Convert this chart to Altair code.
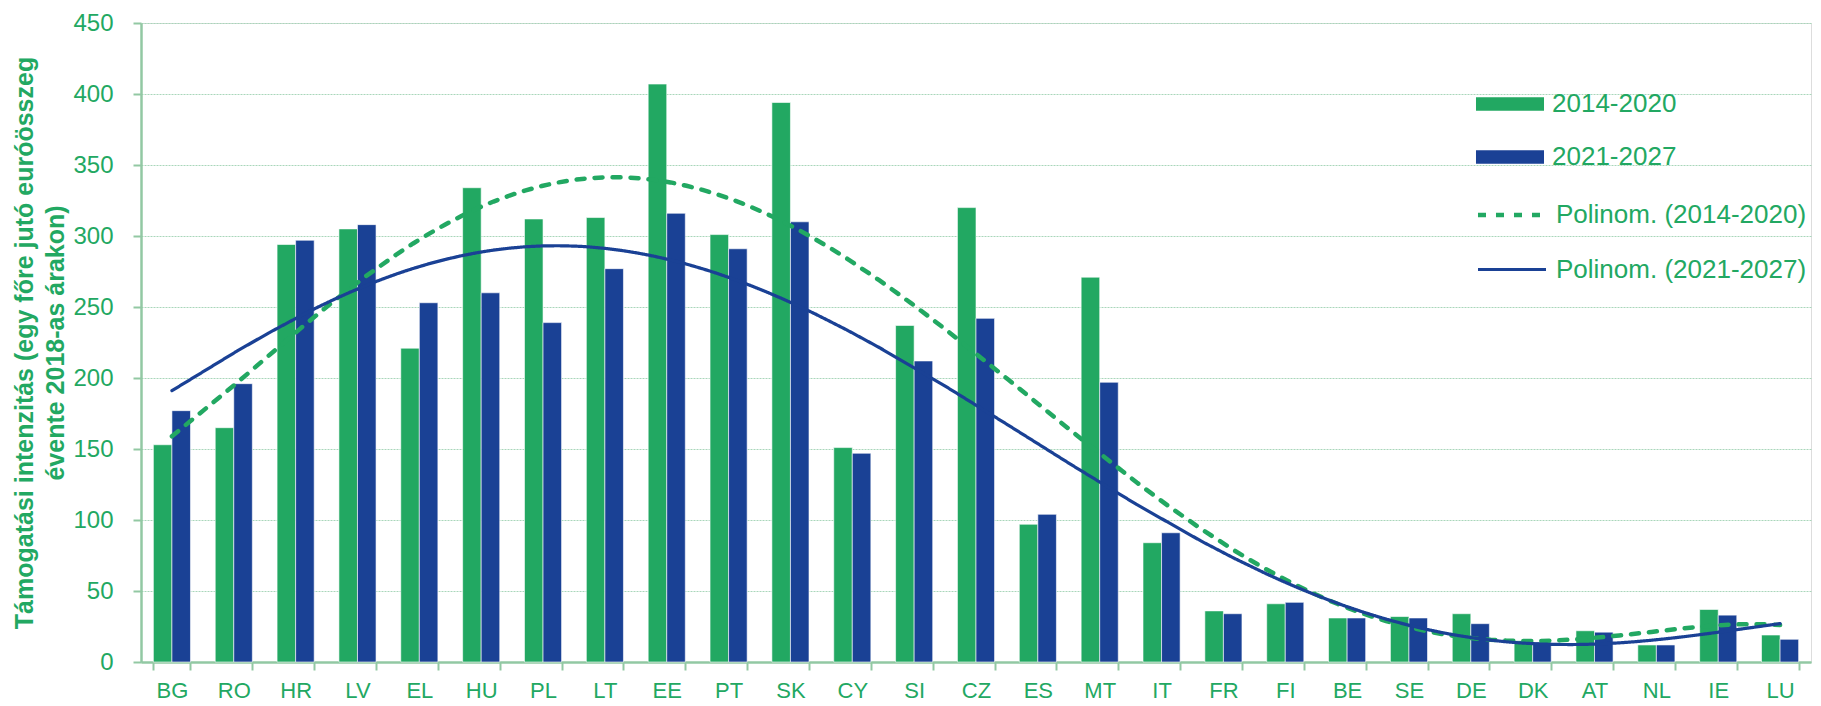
import altair as alt
import pandas as pd

countries = ["BG","RO","HR","LV","EL","HU","PL","LT","EE","PT","SK","CY","SI","CZ",
             "ES","MT","IT","FR","FI","BE","SE","DE","DK","AT","NL","IE","LU"]
v2014 = [153,165,294,305,221,334,312,313,407,301,394,151,237,320,97,271,84,36,41,31,32,34,15,22,12,37,19]
v2021 = [177,196,297,308,253,260,239,277,316,291,310,147,212,242,104,197,91,34,42,31,31,27,14,21,12,33,16]
periods = ["2014-2020", "2021-2027"]
trends = ["Polinom. (2014-2020)", "Polinom. (2021-2027)"]

GREEN = "#22A862"
BLUE = "#1A4195"
AXIS = "#92C8A3"
GRID = "#A9D6BA"

rows = []
for i, c in enumerate(countries):
    rows.append({"country": c, "idx": i, "period": periods[0], "trend": trends[0], "value": v2014[i]})
    rows.append({"country": c, "idx": i, "period": periods[1], "trend": trends[1], "value": v2021[i]})
df = pd.DataFrame(rows)

W, H = 1670, 639

bars = alt.Chart(df).mark_bar(stroke="white", strokeWidth=0.6).encode(
    x=alt.X("country:N", sort=countries,
            scale=alt.Scale(paddingInner=0.4, paddingOuter=0.2),
            axis=alt.Axis(title=None, labelAngle=0, labelFontSize=22, labelColor=GREEN,
                          labelFont="Liberation Sans", labelPadding=10,
                          tickBand="extent", tickSize=8, tickColor=AXIS, tickWidth=2,
                          domainColor=AXIS, domainWidth=2.5)),
    xOffset=alt.XOffset("period:N", sort=periods),
    y=alt.Y("value:Q", scale=alt.Scale(domain=[0, 450]),
            axis=alt.Axis(title=["Támogatási intenzitás (egy főre jutó euróösszeg",
                                 "évente 2018-as árakon)"],
                          values=list(range(0, 451, 50)),
                          labelFontSize=24, labelColor=GREEN, labelFont="Liberation Sans",
                          labelPadding=20, tickSize=8, tickColor=AXIS, tickWidth=2,
                          domainColor=AXIS, domainWidth=2.5,
                          grid=True, gridColor=GRID, gridDash=[2, 1], gridWidth=1,
                          titleFontSize=25, titleFont="Liberation Sans", titleColor=GREEN,
                          titleFontWeight="bold", titleAngle=-90, titleAlign="center",
                          titleBaseline="top", titleLineHeight=31,
                          titleX=-129, titleY=H / 2)),
    color=alt.Color("period:N", sort=periods,
                    scale=alt.Scale(domain=periods, range=[GREEN, BLUE]),
                    legend=alt.Legend(title=None, orient="none", legendX=1355, legendY=67,
                                      symbolType="M-2.5,-0.5H2.5V0.5H-2.5Z",
                                      symbolSize=740, symbolStrokeWidth=0,
                                      labelOffset=28, rowPadding=26, padding=0,
                                      labelFontSize=26, labelColor=GREEN, labelLimit=500,
                                      labelFont="Liberation Sans")),
)

lines = alt.Chart(df).transform_regression(
    "idx", "value", method="poly", order=5, groupby=["trend"]
).mark_line(strokeCap="round").encode(
    x=alt.X("idx:Q", scale=alt.Scale(domain=[-0.5, 26.5], nice=False, zero=False), axis=None),
    y=alt.Y("value:Q"),
    stroke=alt.Stroke("trend:N", sort=trends,
                      scale=alt.Scale(domain=trends, range=[GREEN, BLUE]),
                      legend=alt.Legend(title=None, orient="none", legendX=1355, legendY=176,
                                        symbolType="M-2.5,0H2.5",
                                        symbolSize=740, symbolStrokeWidth=4,
                                        labelOffset=28, rowPadding=26, padding=0,
                                        labelFontSize=26, labelColor=GREEN, labelLimit=500,
                                        labelFont="Liberation Sans")),
    strokeDash=alt.StrokeDash("trend:N", sort=trends,
                              scale=alt.Scale(domain=trends, range=[[8, 10], [1, 0]]),
                              legend=None),
    strokeWidth=alt.StrokeWidth("trend:N", sort=trends,
                                scale=alt.Scale(domain=trends, range=[4.5, 3.2]),
                                legend=None),
)

chart = alt.layer(bars, lines).resolve_scale(x="independent").properties(
    width=W, height=H,
    autosize=alt.AutoSizeParams(type="none"),
    padding={"left": 133, "top": 15, "right": 2, "bottom": 40},
).configure_view(stroke=None).configure(background="white")

chart.save("out.html", embed_options={"renderer": "svg", "actions": False})
